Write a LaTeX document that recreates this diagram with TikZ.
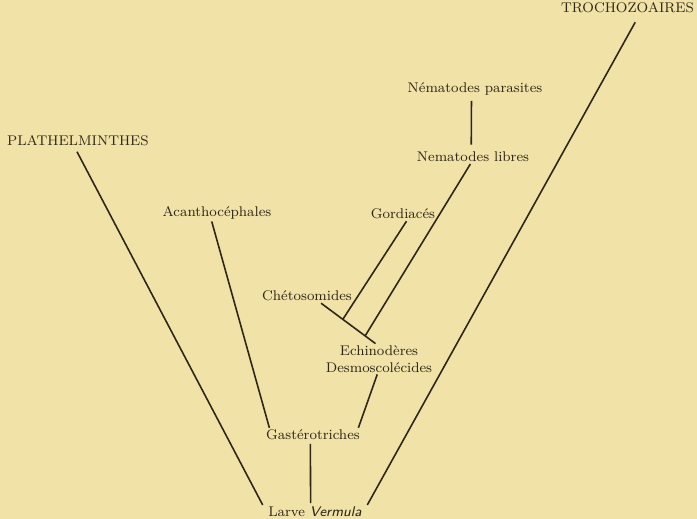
\documentclass[tikz,border=0pt]{standalone}
\usetikzlibrary{calc}
\definecolor{paper}{HTML}{F1E2A8}
\definecolor{ink}{HTML}{2E2616}
\begin{document}
\begin{tikzpicture}
	[x=0.02cm, y=-0.02cm,
	 taxon/.style={inner sep=1pt, text=ink, font=\fontsize{8}{9.5}\selectfont},
	 branch/.style={draw=ink, line width=0.9pt}]
	
	\fill[paper] (0,0) rectangle (697,519);
	\useasboundingbox (0,0) rectangle (697,519);
	
	\node[taxon, anchor=east] (troch) at (696,8) {TROCHOZOAIRES};
	\node[taxon, anchor=west] (plat) at (5,141) {PLATHELMINTHES};
	\node[taxon] (acan) at (217,213) {Acanthocéphales};
	\node[taxon] (gord) at (403,214) {Gordiacés};
	\node[taxon] (npar) at (475,89) {Nématodes parasites};
	\node[taxon] (nlib) at (473,157) {Nematodes libres};
	\node[taxon] (chet) at (307,296) {Chétosomides};
	\node[taxon, align=center] (echi) at (379,359) {Echinodères\\Desmoscolécides};
	\node[taxon] (gast) at (313,435) {Gastérotriches};
	\node[taxon] (larve) at (315,512) {Larve \textsf{\itshape Vermula}};
	
	% crossbar between Chetosomides and Echinoderes
	\coordinate (cb1) at ([xshift=8pt]chet.south);
	\coordinate (cb2) at ([xshift=-2pt]echi.north);
	\draw[branch] (cb1) -- (cb2);
	
	\draw[branch] ([xshift=-0.5pt,yshift=-2pt]plat.south) -- ([xshift=-2pt]larve.north west);
	\draw[branch] ([xshift=4.4pt,yshift=-4pt]troch.south) -- ([xshift=2pt]larve.north east);
	\draw[branch] ([xshift=-3pt]acan.south) -- ([xshift=3pt]gast.north west);
	\draw[branch] ([xshift=-1.5pt,yshift=-1pt]gast.south) -- ([xshift=-2.5pt,yshift=1pt]larve.north);
	\draw[branch] ([xshift=-1pt]echi.south) -- ([xshift=-2pt]gast.north east);
	\draw[branch] ([xshift=-2pt,yshift=-2pt]npar.south) -- ([xshift=-1pt,yshift=3pt]nlib.north);
	\draw[branch] ([xshift=2pt]gord.south) -- ($(cb1)!0.4!(cb2)$);
	\draw[branch] ([xshift=-1.5pt]nlib.south) -- ($(cb1)!0.81!(cb2)$);
\end{tikzpicture}
\end{document}
